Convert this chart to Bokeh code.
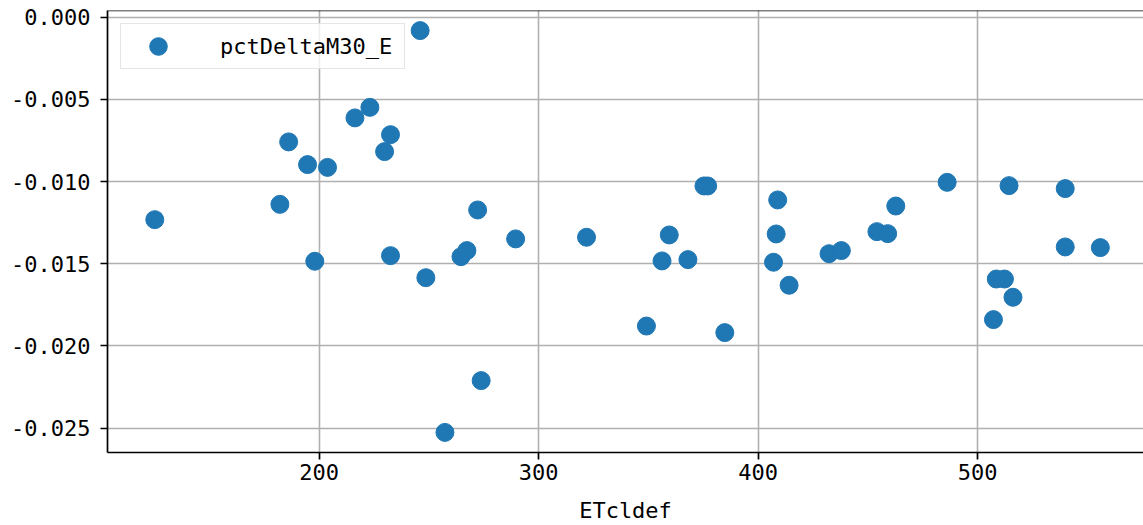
from bokeh.plotting import figure
from bokeh.models import FixedTicker, Range1d, Legend, LegendItem, Span, ColumnDataSource
from bokeh.embed import file_html
from bokeh.resources import INLINE

# ---- data ----
etcldef = [125.1, 182.1, 186.1, 194.7, 198.0, 203.8, 216.3, 223.1, 229.8, 232.5,
           232.5, 246.0, 248.6, 257.3, 264.6, 267.3, 272.2, 273.8, 289.5, 321.8,
           349.1, 356.2, 359.5, 368.0, 375.3, 377.0, 384.8, 407.0, 408.2, 408.9,
           414.1, 432.3, 437.9, 454.1, 459.0, 462.7, 486.1, 507.2, 508.5, 512.2,
           514.3, 516.1, 539.9, 539.9, 555.9]
pct_delta_m30_e = [-0.01232, -0.01139, -0.00759, -0.00897, -0.01485, -0.00914, -0.00613, -0.00549, -0.00818, -0.00715,
                   -0.01451, -0.00082, -0.01585, -0.02526, -0.01457, -0.01420, -0.01173, -0.02211, -0.01349, -0.01339,
                   -0.01879, -0.01483, -0.01325, -0.01475, -0.01027, -0.01027, -0.01919, -0.01491, -0.01319, -0.01112,
                   -0.01631, -0.01439, -0.01420, -0.01305, -0.01317, -0.01149, -0.01005, -0.01840, -0.01593, -0.01593,
                   -0.01025, -0.01704, -0.01043, -0.01398, -0.01402]
series_name = "pctDeltaM30_E"
x_label = "ETcldef"
x_ticks = [200, 300, 400, 500]
y_ticks = [-0.025, -0.020, -0.015, -0.010, -0.005, 0.0]
y_tick_labels = ["-0.025", "-0.020", "-0.015", "-0.010", "-0.005", "0.000"]

FONT = "DejaVu Sans Mono"
BLUE = "#1f77b4"
GRID = "#b0b0b0"

src = ColumnDataSource(dict(x=etcldef, y=pct_delta_m30_e))

p = figure(width=1143, height=525, output_backend="svg", toolbar_location=None,
           x_range=Range1d(103.56, 575.56), y_range=Range1d(-0.026482, 0.000402),
           min_border_left=107, min_border_right=0, min_border_top=10, min_border_bottom=73)
p.outline_line_color = None
p.background_fill_color = "white"
p.border_fill_color = "white"

r = p.scatter(x="x", y="y", source=src, size=18, fill_color=BLUE, line_color=BLUE)

# axes
p.xaxis.ticker = FixedTicker(ticks=x_ticks)
p.yaxis.ticker = FixedTicker(ticks=y_ticks)
p.yaxis.major_label_overrides = {t: l for t, l in zip(y_ticks, y_tick_labels)}
for ax in (p.xaxis[0], p.yaxis[0]):
    ax.axis_line_color = "black"
    ax.axis_line_width = 1.7
    ax.major_tick_line_color = "black"
    ax.major_tick_line_width = 1.7
    ax.major_tick_out = 7
    ax.major_tick_in = 0
    ax.minor_tick_out = 0
    ax.minor_tick_in = 0
    ax.major_label_text_font = FONT
    ax.major_label_text_font_size = "22px"
    ax.major_label_text_color = "black"
p.yaxis.major_label_standoff = 10
p.xaxis.major_label_standoff = 4
p.xaxis.axis_label = x_label
p.xaxis.axis_label_text_font = FONT
p.xaxis.axis_label_text_font_size = "22px"
p.xaxis.axis_label_text_font_style = "normal"
p.xaxis.axis_label_text_color = "black"
p.xaxis.axis_label_standoff = 15

# grid
for g in (p.xgrid[0], p.ygrid[0]):
    g.grid_line_color = GRID
    g.grid_line_width = 1.6

# top spine
p.add_layout(Span(location=0.000402, dimension="width", line_color="black", line_width=1.7))

# legend
legend = Legend(items=[LegendItem(label=series_name, renderers=[r])], location="top_left")
legend.margin = 13
legend.padding = 0
legend.glyph_width = 74
legend.glyph_height = 44
legend.label_height = 44
legend.label_width = 184
legend.label_standoff = 25
legend.label_text_font = FONT
legend.label_text_font_size = "22px"
legend.label_text_color = "black"
legend.border_line_color = "#cccccc"
legend.border_line_width = 1.5
legend.background_fill_alpha = 0.8
p.add_layout(legend)

open("out.html", "w").write(file_html(p, INLINE))
